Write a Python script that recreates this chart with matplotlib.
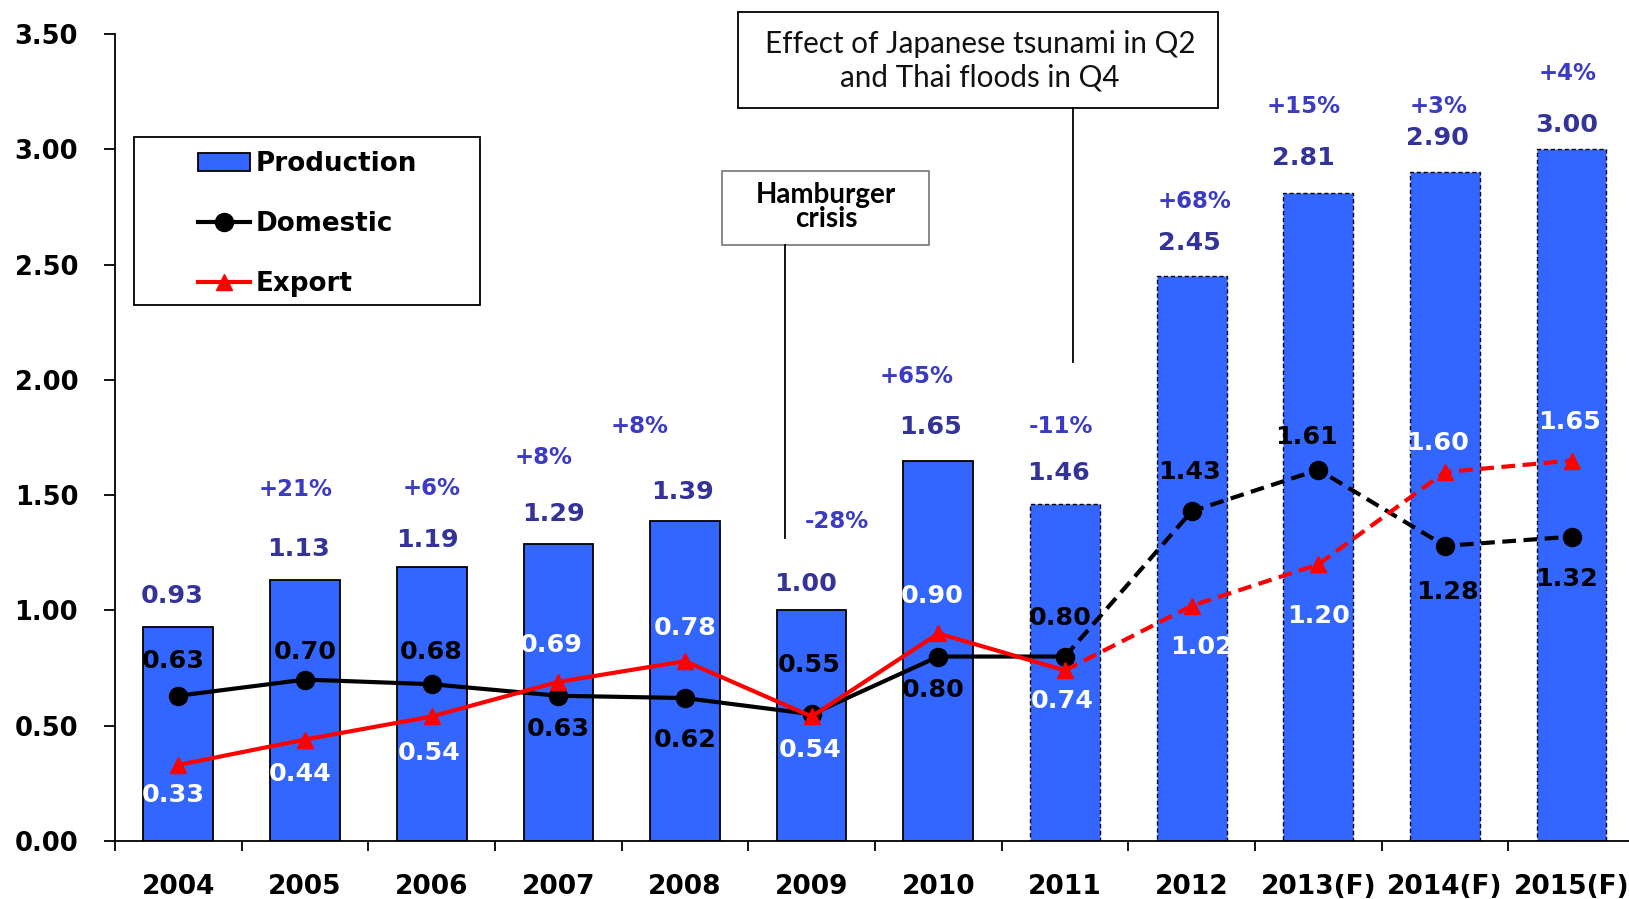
import matplotlib
matplotlib.use("Agg")
import matplotlib.pyplot as plt
import numpy as np
from matplotlib.patches import Rectangle, Patch
from matplotlib.lines import Line2D
from matplotlib.ticker import FormatStrFormatter

# ---------------- data ----------------
years = ["2004", "2005", "2006", "2007", "2008", "2009", "2010", "2011",
         "2012", "2013(F)", "2014(F)", "2015(F)"]
production = [0.93, 1.13, 1.19, 1.29, 1.39, 1.00, 1.65, 1.46, 2.45, 2.81, 2.90, 3.00]
domestic = [0.63, 0.70, 0.68, 0.63, 0.62, 0.55, 0.80, 0.80, 1.43, 1.61, 1.28, 1.32]
export = [0.33, 0.44, 0.54, 0.69, 0.78, 0.54, 0.90, 0.74, 1.02, 1.20, 1.60, 1.65]
growth = ["", "+21%", "+6%", "+8%", "+8%", "-28%", "+65%", "-11%", "+68%", "+15%", "+3%", "+4%"]
forecast_start = 7  # from here lines are dashed, bars have dashed borders

# ---------------- layout (label offsets in pixels: dx, dy) ----------------
prod_off = [(-6, 31), (-6, 31), (-4, 27), (-5, 30), (-3, 29), (-6, 26), (-8, 34), (-6, 31),
            (-2, 33), (-15, 35), (-8, 34), (-5, 24)]
growth_off = [(0, 0), (-9, 91), (0, 78), (-15, 86), (-45, 94), (25, 89), (-22, 84), (-4, 78),
              (3, 75), (-15, 87), (-6, 66), (-4, 76)]
dom_off = [(-5, 35), (0, 28), (0, 32), (0, -33), (0, -42), (-3, 49), (-5, -33), (-5, 39),
           (-2, 39), (-12, 33), (3, -46), (-5, -42)]
exp_off = [(-5, -30), (-5, -34), (-3, -37), (-7, 37), (0, 33), (-2, -34), (-6, 37), (-3, -31),
           (10, -41), (0, -52), (-7, 29), (-2, 39)]

W, H = 1629, 899
BLUE = "#3366FF"
VAL_COLOR = "#333399"
PCT_COLOR = "#3B3BC4"
VAL_SIZE = 18.3

plt.rcParams["font.family"] = ["DejaVu Sans"]

fig = plt.figure(figsize=(W / 100, H / 100), dpi=100)
ax = fig.add_axes([115 / W, 1 - 841 / H, 1520 / W, 807 / H])

x = np.arange(len(years))
fs = forecast_start

bars = ax.bar(x, production, width=0.55, color=BLUE, edgecolor="black",
              linewidth=1.3, zorder=2)
for i, b in enumerate(bars):
    if i >= fs:
        b.set_linestyle((0, (3, 2)))
        b.set_linewidth(1.0)

LW = 3.0
# domestic
ax.plot(x[:fs + 1], domestic[:fs + 1], color="black", lw=LW, zorder=4)
ax.plot(x[fs:], domestic[fs:], color="black", lw=LW, ls=(0, (3.3, 1.8)), zorder=4)
ax.plot(x, domestic, ls="none", marker="o", ms=13, color="black", zorder=5)
# export
ax.plot(x[:fs + 1], export[:fs + 1], color="red", lw=LW, zorder=6)
ax.plot(x[fs:], export[fs:], color="red", lw=LW, ls=(0, (3.3, 1.8)), zorder=6)
ax.plot(x, export, ls="none", marker="^", ms=11, color="red", zorder=7)

# labels
for i in range(len(years)):
    ax.annotate(f"{production[i]:.2f}", (x[i], production[i]), xytext=prod_off[i],
                textcoords="offset pixels", ha="center", va="center",
                fontsize=VAL_SIZE, fontweight="bold", color=VAL_COLOR, zorder=10)
    if growth[i]:
        ax.annotate(growth[i], (x[i], production[i]), xytext=growth_off[i],
                    textcoords="offset pixels", ha="center", va="center",
                    fontsize=16.5, fontweight="bold",
                    color=PCT_COLOR, zorder=10)
    ax.annotate(f"{domestic[i]:.2f}", (x[i], domestic[i]), xytext=dom_off[i],
                textcoords="offset pixels", ha="center", va="center",
                fontsize=VAL_SIZE, fontweight="bold", color="black", zorder=10)
    ax.annotate(f"{export[i]:.2f}", (x[i], export[i]), xytext=exp_off[i],
                textcoords="offset pixels", ha="center", va="center",
                fontsize=VAL_SIZE, fontweight="bold", color="white", zorder=10)

# axes
ax.set_xlim(-0.5, len(years) - 0.5)
ax.set_ylim(0, 3.5)
ax.set_yticks(np.arange(0, 3.51, 0.5))
ax.yaxis.set_major_formatter(FormatStrFormatter("%.2f"))
ax.set_xticks(x)
ax.set_xticklabels(years)
ax.set_xticks(np.arange(-0.5, len(years), 1.0), minor=True)
ax.tick_params(axis="x", which="major", length=0, pad=23.5, labelsize=19)
ax.tick_params(axis="x", which="minor", length=7.2, width=1.3, direction="out")
ax.tick_params(axis="y", which="major", length=8, width=1.3, pad=18.5, labelsize=18.5)
for lab in ax.get_xticklabels() + ax.get_yticklabels():
    lab.set_fontweight("bold")
for s in ["top", "right"]:
    ax.spines[s].set_visible(False)
for s in ["left", "bottom"]:
    ax.spines[s].set_linewidth(1.3)


# ---------------- helpers for figure-pixel layout ----------------
def fr(x0, y0, x1, y1, **kw):
    r = Rectangle((x0 / W, 1 - y1 / H), (x1 - x0) / W, (y1 - y0) / H,
                  transform=fig.transFigure, **kw)
    fig.add_artist(r)


def fline(xp, y0, y1, **kw):
    fig.add_artist(Line2D([xp / W, xp / W], [1 - y0 / H, 1 - y1 / H],
                          transform=fig.transFigure, **kw))


# ---------------- legend ----------------
fr(134, 137, 480, 305, facecolor="white", edgecolor="black", linewidth=1.3, zorder=20)
h_prod = Patch(facecolor=BLUE, edgecolor="black", linewidth=1.3)
h_dom = Line2D([], [], color="black", lw=LW, marker="o", ms=13)
h_exp = Line2D([], [], color="red", lw=LW, marker="^", ms=11)
leg = fig.legend([h_prod, h_dom, h_exp], ["Production", "Domestic", "Export"],
                 loc="upper left", bbox_to_anchor=(198 / W, 1 - 151 / H),
                 frameon=False, prop=dict(weight="bold", size=18.8),
                 handlelength=2.0, handletextpad=0.22, labelspacing=1.3,
                 borderpad=0, borderaxespad=0)
leg.set_zorder(21)

# ---------------- annotations ----------------
fr(738, 12, 1218, 108, facecolor="white", edgecolor="black", linewidth=1.3, zorder=20)
fig.text(980 / W, 1 - 61 / H, "Effect of Japanese tsunami in Q2\nand Thai floods in Q4",
         ha="center", va="center", family="Lato", fontsize=21.3, linespacing=1.22,
         color="#111111", zorder=21)
fline(1073, 108, 362, color="black", lw=1.3, zorder=20)

fr(722, 171, 929, 245, facecolor="white", edgecolor="#7f7f7f", linewidth=1.3, zorder=20)
fig.text(826 / W, 1 - 207 / H, "Hamburger\ncrisis", ha="center", va="center",
         family="Lato", fontweight="bold", fontsize=20, linespacing=0.92,
         color="black", zorder=21)
fline(785, 245, 538, color="black", lw=1.3, zorder=20)

fig.savefig("out.png", dpi=100)
